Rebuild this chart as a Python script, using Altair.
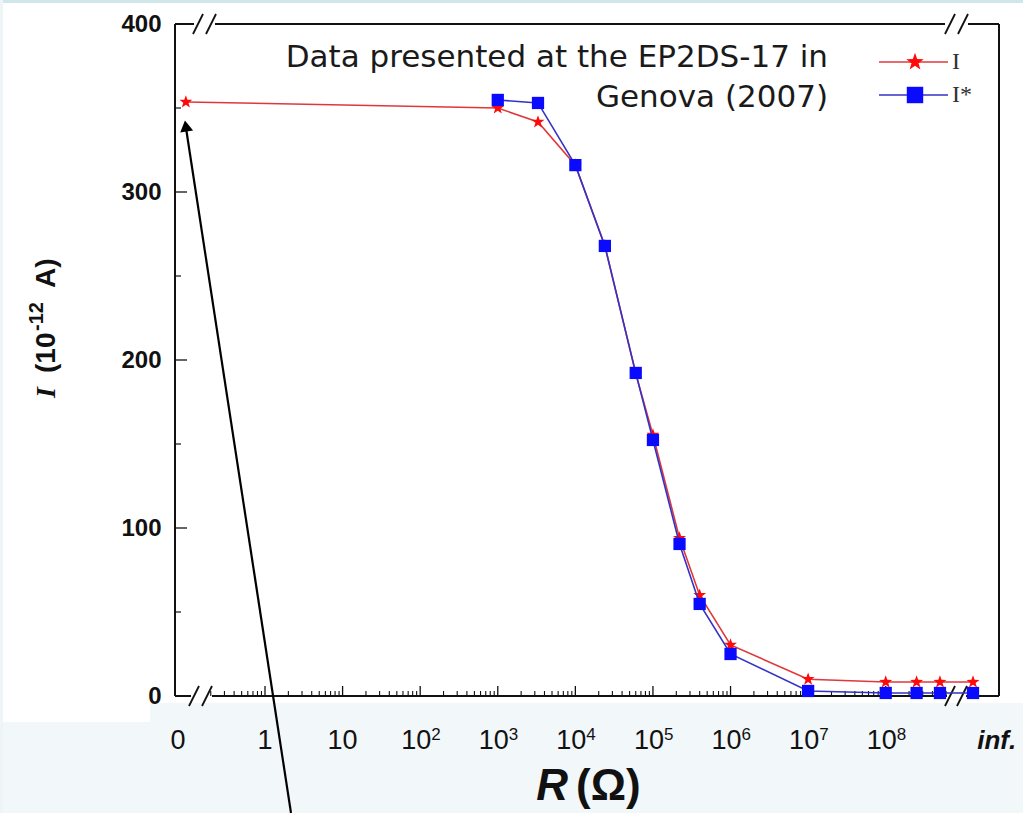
import math
import altair as alt
import pandas as pd

# ---------------- data ----------------
R_OHM = [0, 1e3, 3.3e3, 1e4, 2.4e4, 6e4, 1e5, 2.2e5, 4e5, 1e6, 1e7, 1e8, 2.5e8, 5e8, float("inf")]
I_VALUES = [353.6, 350, 341.7, 316, 268, 192, 155.4, 94, 60, 30.4, 10, 8.3, 8.3, 8.3, 8.3]
I_STAR_VALUES = [None, 354.8, 353, 316, 267.9, 192.3, 152.4, 90.5, 54.8, 25, 3, 1.8, 1.8, 1.8, 1.8]

PLAIN_LABELS = ["0", "1", "10"]
POWER_EXPONENTS = ["2", "3", "4", "5", "6", "7", "8"]
INF_LABEL = "inf."
Y_TICKS = [0, 100, 200, 300, 400]
Y_MINOR = [50, 150, 250, 350]

SERIES = ["I", "I*"]
COLORS_LINE = {"I": "#e0383a", "I*": "#3232c8"}
COLORS_MARK = {"I": "#ff0a0a", "I*": "#0a0aff"}

# broken-axis positions (in decades, log10 R) for R = 0 and R = infinity
ZERO_POS = -1.02
INF_POS = 9.125
ZERO_LABEL_POS = -1.12
INF_LABEL_POS = 9.43
X_DOMAIN = [-1.16, 9.46]
Y_DOMAIN = [0, 400]

W, H = 824, 672
PAD_L, PAD_T = 175, 24


def pos(r):
    if r == 0:
        return ZERO_POS
    if math.isinf(r):
        return INF_POS
    return math.log10(r)


rows = []
for r, a, b in zip(R_OHM, I_VALUES, I_STAR_VALUES):
    if a is not None:
        rows.append({"series": "I", "pos": pos(r), "value": a})
    if b is not None:
        rows.append({"series": "I*", "pos": pos(r), "value": b})
df = pd.DataFrame(rows)

major_x = list(range(0, 9))
minor_x = [math.log10(k * 10 ** d) for d in range(-1, 9) for k in range(2, 10)]
minor_x = [p for p in minor_x if p < 8.8]

STAR = ("M0,-1 L0.235,-0.324 L0.951,-0.309 L0.380,0.124 L0.588,0.809 L0,0.4 "
        "L-0.588,0.809 L-0.380,0.124 L-0.951,-0.309 L-0.235,-0.324 Z")

xscale = alt.Scale(domain=X_DOMAIN, nice=False, zero=False)
yscale = alt.Scale(domain=Y_DOMAIN, nice=False, zero=False)

X_ENC = alt.X("pos:Q", scale=xscale, title=None, axis=None)
Y_ENC = alt.Y(
    "value:Q", scale=yscale, title=None,
    axis=alt.Axis(
        values=Y_TICKS, ticks=False, domain=False, grid=False,
        labelFont="Liberation Sans", labelFontSize=24, labelFontWeight="bold",
        labelColor="#111", labelPadding=14, zindex=2,
    ),
)

one = alt.Data(values=[{}])


def px(x):
    return alt.value(x - PAD_L)


def py(y):
    return alt.value(y - PAD_T)


def seg(x1, y1, x2, y2, color="#111", w=2.0):
    return alt.Chart(one).mark_rule(color=color, strokeWidth=w).encode(
        x=px(x1), y=py(y1), x2=px(x2), y2=py(y2))


def rect(x1, y1, x2, y2, color):
    return alt.Chart(one).mark_rect(color=color).encode(
        x=px(x1), y=py(y1), x2=px(x2), y2=py(y2))


def label(text, x, y, size, angle=0, align="center", baseline="middle", font="Liberation Sans",
          weight="bold", style="normal", color="#111"):
    return alt.Chart(one).mark_text(
        text=text, font=font, fontSize=size, fontWeight=weight, fontStyle=style, color=color,
        align=align, baseline=baseline, angle=angle).encode(x=px(x), y=py(y))


layers = []
# slide background pieces
layers.append(rect(150, 703, 1023, 813, "#f2f7f9"))
layers.append(rect(0, 722, 150, 813, "#f2f7f9"))
layers.append(rect(0, 0, 1023, 3, "#cfe7eb"))
layers.append(rect(0, 0, 3, 813, "#eef5f7"))

# frame with axis breaks
layers.append(seg(175, 24, 175, 696))
layers.append(seg(999, 24, 999, 696))
for a, b in [(175, 191), (212, 947), (966, 999)]:
    layers.append(seg(a, 696, b, 696))
for a, b in [(175, 194), (215, 945), (968, 999)]:
    layers.append(seg(a, 24, b, 24))
for cx, cy in [(194, 696), (207, 696), (950, 696), (962, 696),
               (198, 24), (211, 24), (950, 24), (963, 24)]:
    layers.append(seg(cx - 5, cy + 10, cx + 5, cy - 10, w=1.8))

# inward ticks
tick_major = pd.DataFrame({"pos": major_x})
tick_minor = pd.DataFrame({"pos": minor_x})
layers.append(alt.Chart(tick_major).mark_rule(color="#111", strokeWidth=1.3).encode(
    x=X_ENC, y=alt.value(H), y2=alt.value(H - 10)))
layers.append(alt.Chart(tick_minor).mark_rule(color="#111", strokeWidth=1.1).encode(
    x=X_ENC, y=alt.value(H), y2=alt.value(H - 5)))
layers.append(alt.Chart(pd.DataFrame({"value": Y_TICKS[1:-1]})).mark_rule(color="#111", strokeWidth=1.3).encode(
    y=Y_ENC, x=alt.value(0), x2=alt.value(12)))
layers.append(alt.Chart(pd.DataFrame({"value": Y_MINOR})).mark_rule(color="#111", strokeWidth=1.2).encode(
    y=Y_ENC, x=alt.value(0), x2=alt.value(6)))

# x tick labels (broken log axis: 0, 1, 10, 10^2 ... 10^8, inf.)
plain = pd.DataFrame({"pos": [ZERO_LABEL_POS, 0, 1], "txt": PLAIN_LABELS})
powers = pd.DataFrame({"pos": list(range(2, 9)), "txt": ["10"] * 7, "exp": POWER_EXPONENTS})
infdf = pd.DataFrame({"pos": [INF_LABEL_POS], "txt": [INF_LABEL]})
layers.append(alt.Chart(plain).mark_text(
    font="Liberation Sans", fontSize=27, color="#111", baseline="alphabetic", align="center").encode(
    x=X_ENC, y=alt.value(749 - PAD_T), text="txt:N"))
layers.append(alt.Chart(powers).mark_text(
    font="Liberation Sans", fontSize=27, color="#111", baseline="alphabetic", align="center", dx=-4).encode(
    x=X_ENC, y=alt.value(749 - PAD_T), text="txt:N"))
layers.append(alt.Chart(powers).mark_text(
    font="Liberation Sans", fontSize=17, color="#111", baseline="alphabetic", align="left", dx=11).encode(
    x=X_ENC, y=alt.value(740 - PAD_T), text="exp:N"))
layers.append(alt.Chart(infdf).mark_text(
    font="Liberation Sans", fontSize=26, fontWeight="bold", fontStyle="italic", color="#111",
    baseline="alphabetic", align="center").encode(
    x=X_ENC, y=alt.value(749 - PAD_T), text="txt:N"))

# data series
red = alt.Chart(df).transform_filter("datum.series == 'I'")
blue = alt.Chart(df).transform_filter("datum.series == 'I*'")
layers.append(red.mark_line(color=COLORS_LINE["I"], strokeWidth=1.6).encode(x=X_ENC, y=Y_ENC))
layers.append(red.mark_point(shape=STAR, filled=True, color=COLORS_MARK["I"], size=185, opacity=1).encode(
    x=X_ENC, y=Y_ENC))
layers.append(blue.mark_line(color=COLORS_LINE["I*"], strokeWidth=1.6).encode(x=X_ENC, y=Y_ENC))
layers.append(blue.mark_point(shape="square", filled=True, color=COLORS_MARK["I*"], size=150, opacity=1).encode(
    x=X_ENC, y=Y_ENC))

# legend (drawn by hand, as in the original)
layers.append(seg(879, 62, 948, 62, color=COLORS_LINE["I"], w=1.4))
layers.append(seg(879, 95, 948, 95, color=COLORS_LINE["I*"], w=1.4))
layers.append(alt.Chart(one).mark_point(shape=STAR, filled=True, color=COLORS_MARK["I"], size=340, opacity=1).encode(
    x=px(915), y=py(62)))
layers.append(alt.Chart(one).mark_point(shape="square", filled=True, color=COLORS_MARK["I*"], size=270, opacity=1).encode(
    x=px(915), y=py(95)))
for name, yy in zip(SERIES, [62, 95]):
    layers.append(label(name, 952, yy, 24, align="left", font="Liberation Serif", weight="normal", color="#333"))

# annotation text
for line, yy in [("Data presented at the EP2DS-17 in", 58), ("Genova (2007)", 98)]:
    layers.append(label(line, 828, yy, 31, align="right", font="DejaVu Sans", weight="normal", color="#1a1a1a"))

# arrow pointing at the R = 0 point
layers.append(seg(291, 813, 186, 128, color="#000", w=2.2))
layers.append(alt.Chart(one).mark_point(shape="triangle-up", filled=True, color="#000", size=170,
                                        angle=351, opacity=1).encode(x=px(185.8), y=py(126)))

# axis titles
layers.append(label("R", 568, 800, 44, align="right", baseline="alphabetic", style="italic"))
layers.append(label("(Ω)", 576, 800, 44, align="left", baseline="alphabetic"))
layers.append(label("I", 47, 398, 28, angle=270, align="left", font="Liberation Serif", style="italic"))
layers.append(label("(10", 47, 373, 28, angle=270, align="left"))
layers.append(label("-12", 37, 331, 20, angle=270, align="left"))
layers.append(label("A)", 47, 288, 28, angle=270, align="left"))

chart = alt.layer(*layers).properties(
    width=W, height=H, background="white",
    padding={"left": PAD_L, "top": PAD_T, "right": 1023 - PAD_L - W, "bottom": 813 - PAD_T - H},
    autosize=alt.AutoSizeParams(type="none"),
).configure_view(stroke=None)

chart.save("out.html", embed_options={"renderer": "svg", "actions": False})
